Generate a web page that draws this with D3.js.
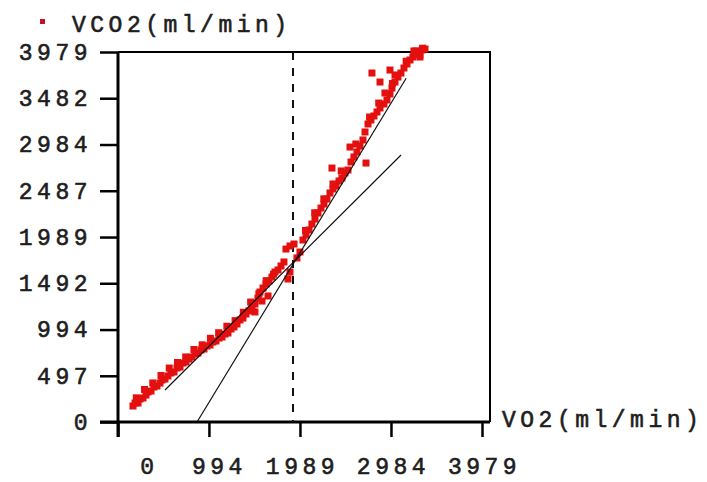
<!DOCTYPE html>
<html>
<head>
<meta charset="utf-8">
<script src="https://d3js.org/d3.v7.min.js"></script>
<style>
  body { margin: 0; background: #fff; }
  text { font-family: "Liberation Mono", "DejaVu Sans Mono", monospace; fill: #1e1e1e; stroke: #1e1e1e; stroke-width: 0.6px; }
</style>
</head>
<body>
<div id="chart"></div>
<script>
// tick labels as printed on the chart
var xTicks = [0, 994, 1989, 2984, 3979];
var yTicks = [0, 497, 994, 1492, 1989, 2487, 2984, 3482, 3979];

// VO2 (ml/min) and VCO2 (ml/min)
var vo2 = [164, 186, 219, 240, 273, 306, 328, 361, 393, 426, 459, 481, 514, 546, 579, 612, 645, 678, 710, 743,
           776, 809, 842, 874, 907, 940, 973, 1006, 1038, 1071, 1104, 1137, 1170, 1202, 1235, 1268, 1301, 1333, 1366, 1399,
           1432, 1465, 1497, 1530, 1552, 1585, 1618, 1650, 1683, 1716, 1749, 1782, 1814, 1858, 1880, 1836, 1880, 1924, 1956, 1989,
           2022, 2055, 2088, 2120, 2153, 2186, 2219, 2252, 2284, 2317, 2350, 2383, 2416, 2448, 2481, 2339, 2514, 2547, 2579, 2612,
           2536, 2645, 2678, 2711, 2700, 2733, 2765, 2798, 2831, 2864, 2907, 2940, 2973, 2995, 3028, 3060, 3093, 3126, 3159, 3192,
           3224, 3257, 3290, 3323, 3356, 3235, 3301, 2776, 2864, 2973, 3028, 2918, 1574, 1640, 1497,
           200, 290, 380, 470, 560, 650, 740, 830, 920, 1010, 1100, 1190, 1280, 1370, 1450, 1540, 1620, 1700,
           2050, 2150, 2250, 2350, 2440, 2600, 2750, 2850, 3000, 3150, 3260, 3300, 3330];
var vco2 = [172, 204, 204, 247, 258, 290, 323, 333, 376, 387, 419, 452, 462, 495, 527, 538, 581, 591, 634, 645,
            677, 699, 731, 742, 774, 785, 817, 828, 860, 871, 903, 914, 946, 957, 1000, 1022, 1054, 1097, 1118, 1161,
            1194, 1237, 1269, 1333, 1398, 1441, 1484, 1516, 1559, 1613, 1635, 1678, 1721, 1538, 1613, 1860, 1893, 1914, 1764, 1828,
            1957, 2011, 2065, 2129, 2183, 2248, 2301, 2344, 2398, 2463, 2506, 2538, 2592, 2624, 2678, 2731, 2710, 2796, 2850, 2904,
            2957, 2968, 3033, 2785, 3119, 3205, 3248, 3291, 3334, 3377, 3420, 3463, 3527, 3592, 3656, 3710, 3753, 3807, 3850, 3893,
            3925, 3958, 3979, 4000, 4011, 3990, 3925, 3753, 3656, 3785, 3732, 3538, 1301, 1355, 1183,
            260, 350, 420, 500, 580, 640, 700, 780, 830, 900, 960, 1030, 1090, 1180, 1290, 1380, 1520, 1590,
            2060, 2250, 2400, 2560, 2700, 2990, 3280, 3430, 3640, 3880, 3990, 3950, 4020];

// fitted slopes and threshold
var fitLow = [[514, 344], [3094, 2871]];
var fitHigh = [[864, 0], [3150, 3697]];
var threshold = 1913;

var seriesName = "VCO2(ml/min)";
var xName = "VO2(ml/min)";

var W = 707, H = 482;
var svg = d3.select("#chart").append("svg")
    .attr("width", W)
    .attr("height", H);

var x = d3.scaleLinear().domain([0, 3979]).range([118, 482]);
var y = d3.scaleLinear().domain([0, 3979]).range([422, 52]);
var frameRight = x.range()[1] + 8;

// frame (top + right)
svg.append("path")
    .attr("d", "M" + x(0) + "," + y(3979) + "H" + frameRight + "V" + y(0))
    .attr("fill", "none")
    .attr("stroke", "#000")
    .attr("stroke-width", 2);

// y axis
var yAxis = svg.append("g")
    .attr("transform", "translate(" + x(0) + ",0)")
    .call(d3.axisLeft(y).tickValues(yTicks).tickFormat(d3.format("d")).tickSize(18).tickPadding(8).tickSizeOuter(0));
yAxis.select(".domain").remove();
yAxis.selectAll(".tick line").attr("stroke", "#000").attr("stroke-width", 2.5);
yAxis.selectAll(".tick text")
    .attr("font-size", 23)
    .attr("letter-spacing", 4.5)
    .attr("dy", "0.32em");

// x axis
var xAxis = svg.append("g")
    .attr("transform", "translate(0," + y(0) + ")")
    .call(d3.axisBottom(x).tickValues(xTicks).tickFormat(d3.format("d")).tickSize(15).tickPadding(21).tickSizeOuter(0));
xAxis.select(".domain").remove();
xAxis.selectAll(".tick line").attr("stroke", "#000").attr("stroke-width", 2.5);
xAxis.selectAll(".tick text")
    .attr("font-size", 23)
    .attr("letter-spacing", 4.5)
    .attr("dx", function(d, i) { return i == 0 ? 31 : (i == 1 ? 10 : 2); });

// main axis lines (they run past the corner)
svg.append("line")
    .attr("x1", x(0)).attr("x2", x(0))
    .attr("y1", y(3979)).attr("y2", y(0) + 15)
    .attr("stroke", "#000").attr("stroke-width", 3);
svg.append("line")
    .attr("x1", x(0) - 18).attr("x2", frameRight)
    .attr("y1", y(0)).attr("y2", y(0))
    .attr("stroke", "#000").attr("stroke-width", 3);

// threshold
svg.append("line")
    .attr("x1", x(threshold)).attr("x2", x(threshold))
    .attr("y1", y(3979)).attr("y2", y(0))
    .attr("stroke", "#111")
    .attr("stroke-width", 2)
    .attr("stroke-dasharray", "8,8");

// points
var pts = d3.zip(vo2, vco2);
svg.append("g")
  .selectAll("rect")
  .data(pts)
  .join("rect")
    .attr("x", function(d) { return x(d[0]) - 3.5; })
    .attr("y", function(d) { return y(d[1]) - 3.5; })
    .attr("width", 7)
    .attr("height", 7)
    .attr("fill", "#e3100f");

// regression lines
var line = d3.line().x(function(d) { return x(d[0]); }).y(function(d) { return y(d[1]); });
[fitLow, fitHigh].forEach(function(f) {
  svg.append("path")
      .attr("d", line(f))
      .attr("fill", "none")
      .attr("stroke", "#111")
      .attr("stroke-width", 1.2);
});

// legend
svg.append("rect")
    .attr("x", 40).attr("y", 19)
    .attr("width", 5).attr("height", 5)
    .attr("fill", "#c8102a");
svg.append("text")
    .attr("x", 72).attr("y", 32)
    .attr("font-size", 23)
    .attr("letter-spacing", 4.5)
    .text(seriesName);

// x axis title
svg.append("text")
    .attr("x", 502).attr("y", 427)
    .attr("font-size", 23)
    .attr("letter-spacing", 4.5)
    .text(xName);
</script>
</body>
</html>
